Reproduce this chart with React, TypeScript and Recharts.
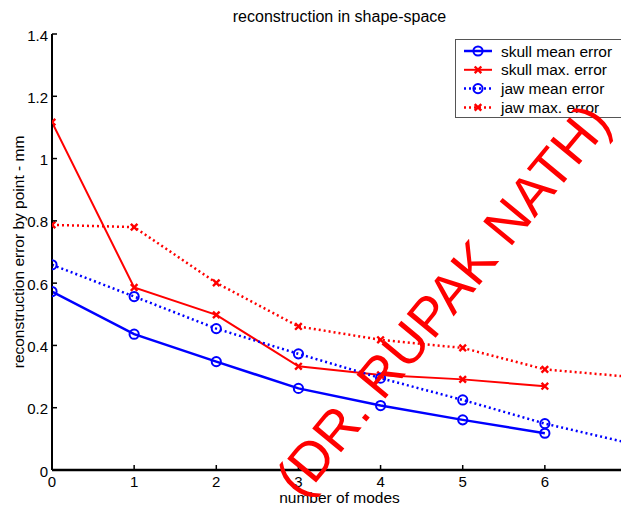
import React from 'react';
import { LineChart, Line, XAxis, YAxis, Legend, Customized } from 'recharts';

const FONT = "Arial, 'Liberation Sans', Helvetica, sans-serif";
const BLUE = '#0000ff';
const RED = '#ff0000';

const modes = [0, 1, 2, 3, 4, 5, 6, 7];
const skullMean = [0.573, 0.436, 0.348, 0.262, 0.207, 0.161, 0.118];
const skullMax = [1.117, 0.586, 0.498, 0.333, 0.305, 0.291, 0.269];
const jawMean = [0.659, 0.557, 0.454, 0.373, 0.295, 0.225, 0.149, 0.088];
const jawMax = [0.787, 0.78, 0.601, 0.461, 0.418, 0.392, 0.323, 0.3];

const xTicks = [0, 1, 2, 3, 4, 5, 6];
const yTicks = [0, 0.2, 0.4, 0.6, 0.8, 1, 1.2, 1.4];
const yTickLabels = ['0', '0.2', '0.4', '0.6', '0.8', '1', '1.2', '1.4'];

const seriesKeys = ['skullMean', 'skullMax', 'jawMean', 'jawMax'];
const seriesNames = ['skull mean error', 'skull max. error', 'jaw mean error', 'jaw max. error'];
const chartTitle = 'reconstruction in shape-space';
const xLabel = 'number of modes';
const yLabel = 'reconstruction error by point - mm';
const watermark = '(DR. RUPAK NATH)';

const data = modes.map((m, i) => ({
  mode: m,
  skullMean: i < skullMean.length ? skullMean[i] : null,
  skullMax: i < skullMax.length ? skullMax[i] : null,
  jawMean: i < jawMean.length ? jawMean[i] : null,
  jawMax: i < jawMax.length ? jawMax[i] : null,
}));

const seriesStyle: Record<string, { color: string; dash?: string; marker: 'o' | 'x'; width: number }> = {
  skullMean: { color: BLUE, marker: 'o', width: 2.5 },
  skullMax: { color: RED, marker: 'x', width: 2 },
  jawMean: { color: BLUE, dash: '2 3', marker: 'o', width: 2.5 },
  jawMax: { color: RED, dash: '2 3', marker: 'x', width: 2.5 },
};

function Marker({ type, cx, cy, color }: { type: 'o' | 'x'; cx: number; cy: number; color: string }) {
  if (type === 'o') {
    return <circle cx={cx} cy={cy} r={4.6} fill="none" stroke={color} strokeWidth={2} />;
  }
  const s = 3.3;
  return (
    <path
      d={`M${cx - s},${cy - s}L${cx + s},${cy + s}M${cx - s},${cy + s}L${cx + s},${cy - s}`}
      stroke={color}
      strokeWidth={2.4}
      fill="none"
    />
  );
}

const makeDot = (key: string) => (props: any) => {
  const { cx, cy, index, value } = props;
  const st = seriesStyle[key];
  if (value == null || cx == null || cy == null || isNaN(cy)) return <g key={`${key}-${index}`} />;
  return (
    <g key={`${key}-${index}`}>
      <Marker type={st.marker} cx={cx} cy={cy} color={st.color} />
    </g>
  );
};

const YTick = (props: any) => {
  const { x, y, payload } = props;
  const ax = x + 4;
  const idx = yTicks.indexOf(payload.value);
  const label = idx >= 0 ? yTickLabels[idx] : String(payload.value);
  return (
    <g>
      <line x1={ax} x2={ax + 5} y1={y} y2={y} stroke="#000" strokeWidth={1.5} />
      <text x={x} y={y + 1} textAnchor="end" dominantBaseline="central" fontSize={15} fontFamily={FONT} fill="#000">
        {label}
      </text>
    </g>
  );
};

const XTick = (props: any) => {
  const { x, y, payload } = props;
  const ay = y - 6;
  return (
    <g>
      <line x1={x} x2={x} y1={ay} y2={ay - 5} stroke="#000" strokeWidth={1.5} />
      <text x={x} y={y} dy="0.71em" textAnchor="middle" fontSize={15} fontFamily={FONT} fill="#000">
        {payload.value}
      </text>
    </g>
  );
};

const renderLegend = () => {
  const rowY = [12, 30.8, 49.6, 68.4];
  return (
    <svg width={172} height={80} style={{ display: 'block', overflow: 'visible' }}>
      <rect x={0.5} y={0.5} width={180} height={78} fill="#fff" stroke="#555" strokeWidth={1} />
      {seriesKeys.map((k, i) => {
        const st = seriesStyle[k];
        return (
          <g key={k}>
            <line x1={9} x2={37} y1={rowY[i]} y2={rowY[i]} stroke={st.color} strokeWidth={st.width} strokeDasharray={st.dash} />
            <Marker type={st.marker} cx={23} cy={rowY[i]} color={st.color} />
            <text x={46} y={rowY[i] + 5.5} fontSize={15.5} fontFamily={FONT} fill="#000">
              {seriesNames[i]}
            </text>
          </g>
        );
      })}
    </svg>
  );
};

const Texts = () => (
  <g fontFamily={FONT} fill="#000">
    <text x={339.5} y={22} textAnchor="middle" fontSize={16}>
      {chartTitle}
    </text>
    <text x={339.5} y={503} textAnchor="middle" fontSize={15.5}>
      {xLabel}
    </text>
    <text x={23.5} y={252} textAnchor="middle" fontSize={15.5} transform="rotate(-90 23.5 252)">
      {yLabel}
    </text>
  </g>
);

export default function App() {
  return (
    <div style={{ position: 'absolute', left: 0, top: 0, width: 621, height: 506, overflow: 'hidden', background: '#fff' }}>
      <LineChart width={632} height={506} data={data} margin={{ top: 34, right: 5, bottom: 0, left: 0 }}>
        <XAxis
          dataKey="mode"
          type="number"
          domain={[0, 7]}
          ticks={xTicks}
          interval={0}
          height={36}
          tickSize={0}
          tickMargin={6}
          tickLine={false}
          axisLine={{ stroke: '#000', strokeWidth: 2.5 }}
          tick={<XTick />}
          allowDataOverflow
        />
        <YAxis
          type="number"
          domain={[0, 1.4]}
          ticks={yTicks}
          interval={0}
          width={52}
          tickSize={0}
          tickMargin={4}
          tickLine={false}
          axisLine={{ stroke: '#000', strokeWidth: 2 }}
          tick={<YTick />}
          allowDataOverflow
        />
        <Customized component={<Texts />} />
        {seriesKeys.map((k) => {
          const st = seriesStyle[k];
          return (
            <Line
              key={k}
              dataKey={k}
              name={seriesNames[seriesKeys.indexOf(k)]}
              type="linear"
              stroke={st.color}
              strokeWidth={st.width}
              strokeDasharray={st.dash}
              dot={makeDot(k)}
              activeDot={false}
              isAnimationActive={false}
              connectNulls={false}
            />
          );
        })}
        <Legend
          layout="vertical"
          align="center"
          verticalAlign="middle"
          wrapperStyle={{ left: 455, top: 39, width: 172, height: 80 }}
          content={renderLegend}
        />
      </LineChart>
      <svg width={621} height={506} style={{ position: 'absolute', left: 0, top: 0, pointerEvents: 'none' }}>
        <text
          x={443}
          y={300}
          textAnchor="middle"
          dominantBaseline="central"
          fontSize={54.5}
          fontFamily={FONT}
          fill={RED}
          transform="rotate(-50.4 443 300)"
        >
          {watermark}
        </text>
      </svg>
    </div>
  );
}
